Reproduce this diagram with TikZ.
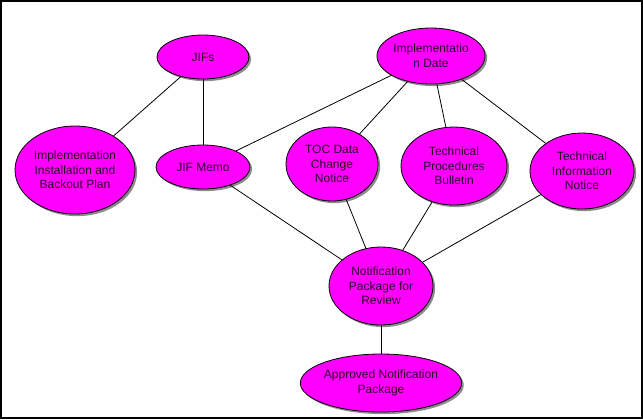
\documentclass[tikz,border=0pt]{standalone}
\usepackage{fontspec}
\setmainfont{Liberation Sans}
\usetikzlibrary{shapes.geometric,shadows}
\definecolor{nodefill}{RGB}{255,0,255}
\definecolor{nodetext}{RGB}{40,0,40}
\begin{document}
\begin{tikzpicture}[x=0.75pt,y=-0.75pt,
  bub/.style={ellipse,draw=black,line width=0.6pt,fill=nodefill,text=nodetext,inner sep=0pt,align=center,
    font=\fontsize{9}{11}\selectfont,
    drop shadow={shadow xshift=1.6pt,shadow yshift=-1.6pt,fill=black!45,opacity=1}},
  link/.style={draw=black,line width=0.6pt}]
\useasboundingbox (0,0) rectangle (643,419);
\draw[line width=1.4pt] (0.8,0.8) rectangle (641.6,417.6);
\node[bub,minimum width=92*0.75pt,minimum height=44*0.75pt] (jifs) at (203,57) {JIFs};
\node[bub,minimum width=120*0.75pt,minimum height=88*0.75pt] (plan) at (75,170) {Implementation\\Installation and\\Backout Plan};
\node[bub,minimum width=94*0.75pt,minimum height=44*0.75pt] (memo) at (203,167) {JIF Memo};
\node[bub,minimum width=108*0.75pt,minimum height=56*0.75pt] (date) at (431,56) {Implementatio\\n Date};
\node[bub,minimum width=92*0.75pt,minimum height=74*0.75pt] (toc) at (332,164) {TOC Data\\Change\\Notice};
\node[bub,minimum width=106*0.75pt,minimum height=78*0.75pt] (tpb) at (454,166) {Technical\\Procedures\\Bulletin};
\node[bub,minimum width=104*0.75pt,minimum height=76*0.75pt] (tin) at (582,171) {Technical\\Information\\Notice};
\node[bub,minimum width=104*0.75pt,minimum height=78*0.75pt] (npr) at (381,286) {Notification\\Package for\\Review};
\node[bub,minimum width=144*0.75pt,minimum height=58*0.75pt] (anp) at (381,383) {Approved Notification\\Package};
\begin{scope}[on background layer/.try]
\end{scope}
\path[link] (jifs) -- (plan);
\path[link] (jifs) -- (memo);
\path[link] (date) -- (memo);
\path[link] (date) -- (toc);
\path[link] (date) -- (tpb);
\path[link] (date) -- (tin);
\path[link] (memo) -- (npr);
\path[link] (toc) -- (npr);
\path[link] (tpb) -- (npr);
\path[link] (tin) -- (npr);
\path[link] (npr) -- (anp);
\end{tikzpicture}
\end{document}
